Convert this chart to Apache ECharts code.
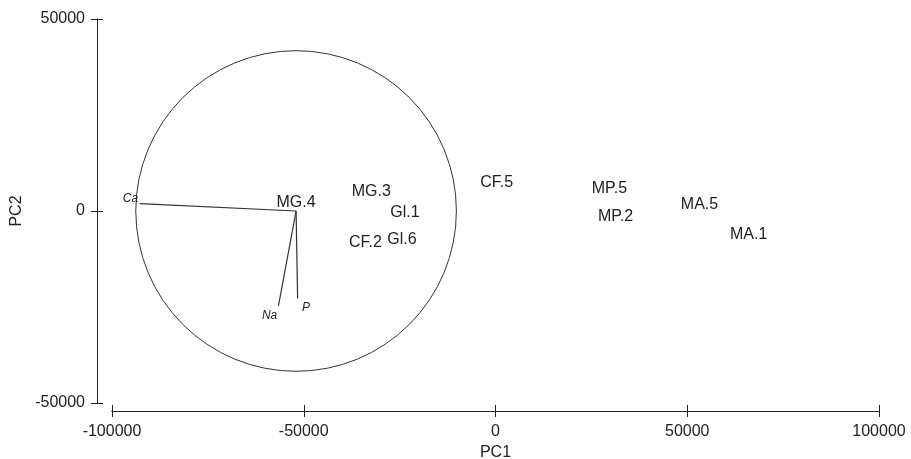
<!DOCTYPE html>
<html>
<head>
<meta charset="utf-8">
<script src="https://cdn.jsdelivr.net/npm/echarts@6/dist/echarts.min.js"></script>
<style>
  html, body { margin: 0; padding: 0; background: #fff; }
  #chart { width: 911px; height: 459px; }
</style>
</head>
<body>
<div id="chart"></div>
<script>
// sample scores (labels only, no markers)
const sampleNames = ['MG.4', 'MG.3', 'Gl.1', 'CF.2', 'Gl.6', 'CF.5', 'MP.5', 'MP.2', 'MA.5', 'MA.1'];
const sampleX = [-52000, -32400, -23600, -33900, -24400, 300, 29700, 31300, 53200, 66000];
const sampleY = [2300, 5000, -400, -8200, -7400, 7500, 5800, -1500, 1600, -6100];

// variable loadings drawn as segments from a common origin
const varNames = ['Ca', 'Na', 'P'];
const varOrigin = [-52000, 0];
const varEndX = [-92800, -56600, -51600];
const varEndY = [1900, -24700, -22800];
const varLabelX = [-95200, -58900, -49400];
const varLabelY = [3300, -27300, -25100];

// correlation circle: centre x, centre y, radius
const circle = [-52000, 0, 41800];

const ink = '#222';
const font = '"Liberation Sans", Arial, sans-serif';
const plain = v => String(v);

const chart = echarts.init(document.getElementById('chart'));

const baseX = {
  type: 'value', min: -100000, max: 100000, interval: 50000,
  position: 'bottom', offset: 8,
  splitLine: { show: false },
  axisLine: { show: true, onZero: false, lineStyle: { color: ink, width: 1 } },
  axisTick: { show: true, length: 6, lineStyle: { color: ink } }
};
const baseY = {
  type: 'value', min: -50000, max: 50000, interval: 50000,
  position: 'left', offset: 15,
  splitLine: { show: false },
  axisLine: { show: true, onZero: false, lineStyle: { color: ink, width: 1 } },
  axisTick: { show: true, length: 6, lineStyle: { color: ink } }
};

chart.setOption({
  animation: false,
  grid: { left: 112, right: 32, top: 19, bottom: 56, containLabel: false, outerBoundsMode: 'none' },
  xAxis: [
    Object.assign({}, baseX, {
      name: 'PC1', nameLocation: 'middle', nameGap: 32,
      nameTextStyle: { color: ink, fontSize: 16, fontFamily: font },
      axisLabel: { color: ink, fontSize: 16, fontFamily: font, margin: 13, formatter: plain }
    }),
    Object.assign({}, baseX, {
      axisLabel: { show: false },
      axisTick: { show: true, inside: true, length: 6, lineStyle: { color: ink } }
    })
  ],
  yAxis: [
    Object.assign({}, baseY, {
      name: 'PC2', nameLocation: 'middle', nameGap: 66,
      nameTextStyle: { color: ink, fontSize: 16, fontFamily: font },
      axisLabel: { color: ink, fontSize: 16, fontFamily: font, margin: 12, formatter: plain }
    }),
    Object.assign({}, baseY, {
      axisLabel: { show: false },
      axisTick: { show: true, inside: true, length: 6, lineStyle: { color: ink } }
    })
  ],
  series: [
    {
      type: 'custom',
      coordinateSystem: 'cartesian2d',
      silent: true,
      data: [circle],
      renderItem: function (params, api) {
        const c = api.coord([api.value(0), api.value(1)]);
        const r = api.size([api.value(2), 0])[0];
        return {
          type: 'circle',
          shape: { cx: c[0], cy: c[1], r: r },
          style: { fill: 'none', stroke: '#333', lineWidth: 1 }
        };
      }
    },
    {
      type: 'lines',
      coordinateSystem: 'cartesian2d',
      silent: true,
      lineStyle: { color: '#333', width: 1.2, opacity: 1 },
      data: varNames.map((n, i) => ({ name: n, coords: [varOrigin, [varEndX[i], varEndY[i]]] }))
    },
    {
      type: 'custom',
      coordinateSystem: 'cartesian2d',
      silent: true,
      data: varNames.map((n, i) => [varLabelX[i], varLabelY[i]]),
      renderItem: function (params, api) {
        const p = api.coord([api.value(0), api.value(1)]);
        return {
          type: 'text', x: p[0], y: p[1],
          style: {
            text: varNames[params.dataIndex], fill: ink,
            font: 'italic 12px ' + font, align: 'center', verticalAlign: 'middle'
          }
        };
      }
    },
    {
      type: 'custom',
      coordinateSystem: 'cartesian2d',
      silent: true,
      data: sampleNames.map((n, i) => [sampleX[i], sampleY[i]]),
      renderItem: function (params, api) {
        const p = api.coord([api.value(0), api.value(1)]);
        return {
          type: 'text', x: p[0], y: p[1],
          style: {
            text: sampleNames[params.dataIndex], fill: ink,
            font: '16px ' + font, align: 'center', verticalAlign: 'middle'
          }
        };
      }
    }
  ]
});
</script>
</body>
</html>
